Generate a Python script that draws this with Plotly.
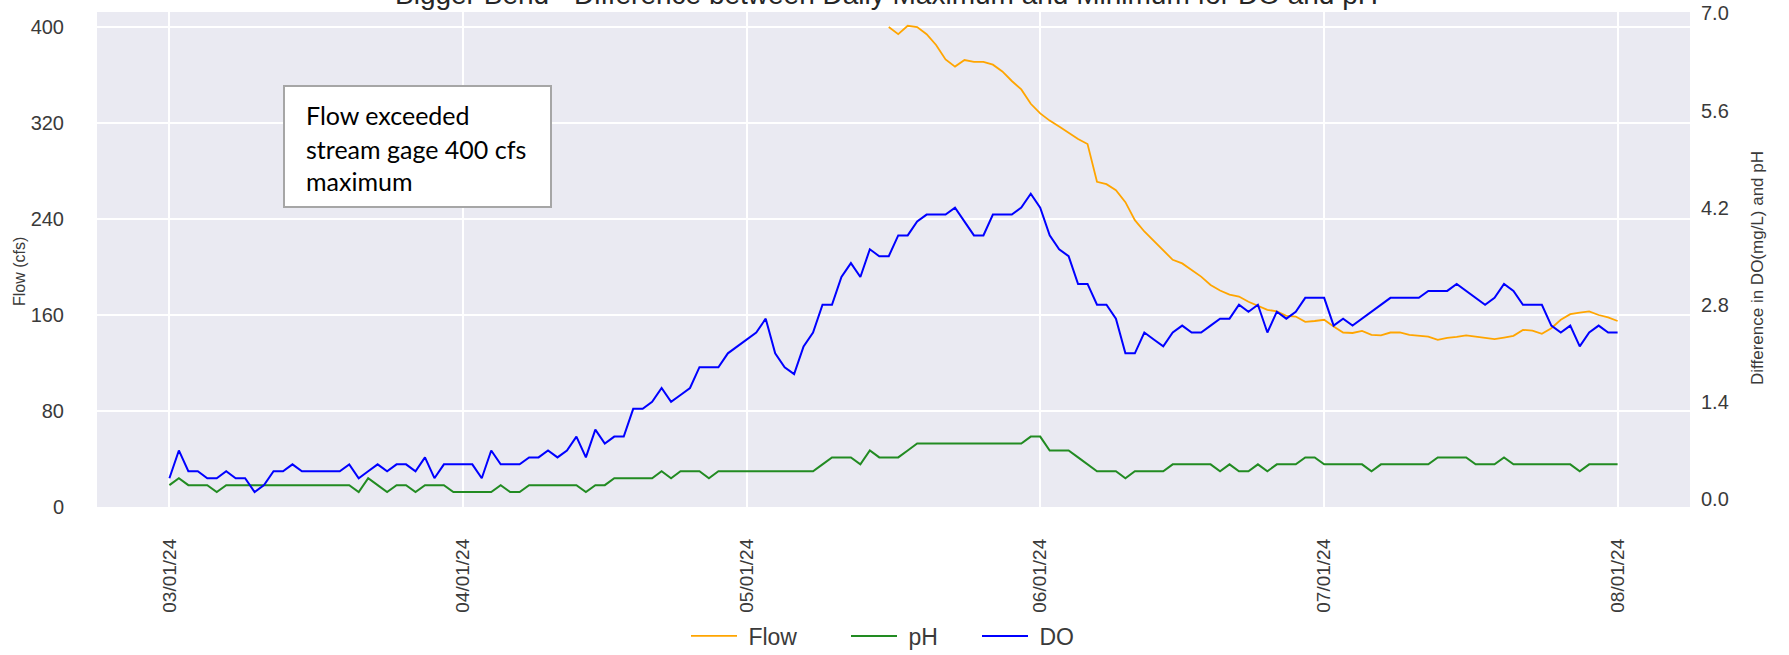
import pandas as pd
import plotly.graph_objects as go

# ---------------- data ----------------
dates = pd.date_range("2024-03-01", "2024-08-01", freq="D")

do_diff = [0.3, 0.7, 0.4, 0.4, 0.3, 0.3, 0.4, 0.3, 0.3, 0.1,
           0.2, 0.4, 0.4, 0.5, 0.4, 0.4, 0.4, 0.4, 0.4, 0.5,
           0.3, 0.4, 0.5, 0.4, 0.5, 0.5, 0.4, 0.6, 0.3, 0.5,
           0.5, 0.5, 0.5, 0.3, 0.7, 0.5, 0.5, 0.5, 0.6, 0.6,
           0.7, 0.6, 0.7, 0.9, 0.6, 1.0, 0.8, 0.9, 0.9, 1.3,
           1.3, 1.4, 1.6, 1.4, 1.5, 1.6, 1.9, 1.9, 1.9, 2.1,
           2.2, 2.3, 2.4, 2.6, 2.1, 1.9, 1.8, 2.2, 2.4, 2.8,
           2.8, 3.2, 3.4, 3.2, 3.6, 3.5, 3.5, 3.8, 3.8, 4.0,
           4.1, 4.1, 4.1, 4.2, 4.0, 3.8, 3.8, 4.1, 4.1, 4.1,
           4.2, 4.4, 4.2, 3.8, 3.6, 3.5, 3.1, 3.1, 2.8, 2.8,
           2.6, 2.1, 2.1, 2.4, 2.3, 2.2, 2.4, 2.5, 2.4, 2.4,
           2.5, 2.6, 2.6, 2.8, 2.7, 2.8, 2.4, 2.7, 2.6, 2.7,
           2.9, 2.9, 2.9, 2.5, 2.6, 2.5, 2.6, 2.7, 2.8, 2.9,
           2.9, 2.9, 2.9, 3.0, 3.0, 3.0, 3.1, 3.0, 2.9, 2.8,
           2.9, 3.1, 3.0, 2.8, 2.8, 2.8, 2.5, 2.4, 2.5, 2.2,
           2.4, 2.5, 2.4, 2.4]

ph_diff = [0.2, 0.3, 0.2, 0.2, 0.2, 0.1, 0.2, 0.2, 0.2, 0.2,
           0.2, 0.2, 0.2, 0.2, 0.2, 0.2, 0.2, 0.2, 0.2, 0.2,
           0.1, 0.3, 0.2, 0.1, 0.2, 0.2, 0.1, 0.2, 0.2, 0.2,
           0.1, 0.1, 0.1, 0.1, 0.1, 0.2, 0.1, 0.1, 0.2, 0.2,
           0.2, 0.2, 0.2, 0.2, 0.1, 0.2, 0.2, 0.3, 0.3, 0.3,
           0.3, 0.3, 0.4, 0.3, 0.4, 0.4, 0.4, 0.3, 0.4, 0.4,
           0.4, 0.4, 0.4, 0.4, 0.4, 0.4, 0.4, 0.4, 0.4, 0.5,
           0.6, 0.6, 0.6, 0.5, 0.7, 0.6, 0.6, 0.6, 0.7, 0.8,
           0.8, 0.8, 0.8, 0.8, 0.8, 0.8, 0.8, 0.8, 0.8, 0.8,
           0.8, 0.9, 0.9, 0.7, 0.7, 0.7, 0.6, 0.5, 0.4, 0.4,
           0.4, 0.3, 0.4, 0.4, 0.4, 0.4, 0.5, 0.5, 0.5, 0.5,
           0.5, 0.4, 0.5, 0.4, 0.4, 0.5, 0.4, 0.5, 0.5, 0.5,
           0.6, 0.6, 0.5, 0.5, 0.5, 0.5, 0.5, 0.4, 0.5, 0.5,
           0.5, 0.5, 0.5, 0.5, 0.6, 0.6, 0.6, 0.6, 0.5, 0.5,
           0.5, 0.6, 0.5, 0.5, 0.5, 0.5, 0.5, 0.5, 0.5, 0.4,
           0.5, 0.5, 0.5, 0.5]

# flow only recorded once it dropped below the 400 cfs gage maximum (from 05/16/24)
flow_start = "2024-05-16"
flow_cfs = [400, 394, 401, 400, 394, 385, 373, 367, 372.5, 371,
            371, 368.6, 363, 355, 348, 336, 328, 322, 317, 312,
            306.6, 302.5, 271, 269, 264, 254, 239, 229.6, 222, 214,
            206, 203, 197.7, 192, 185, 180.4, 177, 175.4, 171, 167.6,
            164.3, 163, 159.3, 158.7, 154.3, 155, 156, 150.4, 145.4, 145,
            146.8, 143.5, 143, 145.4, 145.6, 143.5, 143, 142, 139.3, 141,
            141.8, 143, 142, 140.8, 139.9, 141.2, 142.6, 147.6, 147, 144.3,
            149, 156, 160.7, 162, 163, 160, 158, 155]
flow_dates = pd.date_range(flow_start, periods=len(flow_cfs), freq="D")

x_ticks = pd.date_range("2024-03-01", "2024-08-01", freq="MS")
flow_ticks = [0, 80, 160, 240, 320, 400]
diff_ticks = [0.0, 1.4, 2.8, 4.2, 5.6, 7.0]

title_text = "Bigger Bend - Difference between Daily Maximum and Minimum for DO and pH"
note_lines = ["Flow exceeded", "stream gage 400 cfs", "maximum"]

# ---------------- figure ----------------
W, H = 1789, 655
ML, MR, MT, MB = 97, 99, 12, 148
PW, PH = W - ML - MR, H - MT - MB

TICK_COLOR = "#3a3a3a"
FONT = "Liberation Sans, Arial, sans-serif"
NBSP = "\u00a0"


def px_x(px):
    return (px - ML) / PW


def px_y(py):
    return (H - MB - py) / PH


fig = go.Figure()
fig.add_trace(go.Scatter(x=flow_dates, y=flow_cfs, name=NBSP + "Flow", mode="lines",
                         line=dict(color="#FFA500", width=1.8), yaxis="y",
                         legend="legend"))
fig.add_trace(go.Scatter(x=dates, y=ph_diff, name=NBSP + "pH", mode="lines",
                         line=dict(color="#228B22", width=2), yaxis="y2",
                         legend="legend2"))
fig.add_trace(go.Scatter(x=dates, y=do_diff, name=NBSP + "DO", mode="lines",
                         line=dict(color="#0000FF", width=2), yaxis="y2",
                         legend="legend3"))

annotations = [
    dict(text=title_text, xref="paper", yref="paper", x=px_x(886), y=1.0,
         xanchor="center", yanchor="bottom", showarrow=False,
         font=dict(family=FONT, size=28, color="#262626")),
    dict(text="Flow (cfs)", xref="paper", yref="paper", x=px_x(19), y=px_y(272),
         xanchor="center", yanchor="middle", textangle=-90, showarrow=False,
         font=dict(family=FONT, size=16, color=TICK_COLOR)),
    dict(text="Difference in DO(mg/L) and pH", xref="paper", yref="paper",
         x=px_x(1757), y=px_y(268), xanchor="center", yanchor="middle",
         textangle=-90, showarrow=False,
         font=dict(family=FONT, size=17, color=TICK_COLOR)),
]
for line, cy in zip(note_lines, [115, 149, 181]):
    annotations.append(dict(text=line, xref="paper", yref="paper", x=px_x(304), y=px_y(cy),
                            xanchor="left", yanchor="middle", showarrow=False,
                            font=dict(family="Lato, Open Sans, sans-serif", size=25,
                                      color="#000000")))

shapes = [dict(type="rect", xref="paper", yref="paper",
               x0=px_x(284), x1=px_x(551), y0=px_y(207), y1=px_y(86),
               fillcolor="white", line=dict(color="#A6A6A6", width=2), layer="above")]

legend_common = dict(orientation="h", xanchor="left", yanchor="middle", y=px_y(636),
                     itemwidth=46, font=dict(size=23, color=TICK_COLOR),
                     bgcolor="rgba(0,0,0,0)", borderwidth=0)

fig.update_layout(
    width=W, height=H,
    margin=dict(l=ML, r=MR, t=MT, b=MB, autoexpand=False),
    paper_bgcolor="white", plot_bgcolor="#EAEAF2",
    font=dict(family=FONT, color=TICK_COLOR),
    showlegend=True,
    legend=dict(x=px_x(686), **legend_common),
    legend2=dict(x=px_x(846), **legend_common),
    legend3=dict(x=px_x(977), **legend_common),
    xaxis=dict(type="date", range=["2024-02-22 08:24", "2024-08-08 15:36"],
               tickvals=list(x_ticks), tickformat="%m/%d/%y", tickangle=-90,
               tickfont=dict(size=19, color=TICK_COLOR), showgrid=True,
               gridcolor="white", gridwidth=1.5, zeroline=False, showline=False,
               ticks="", ticklabelstandoff=27),
    yaxis=dict(range=[0, 412.5], tickvals=flow_ticks, showgrid=True, gridcolor="white",
               gridwidth=1.5, zeroline=False, showline=False, ticks="",
               tickfont=dict(size=20, color=TICK_COLOR), ticklabelstandoff=32),
    yaxis2=dict(range=[-0.115, 7.02], tickvals=diff_ticks, tickformat=".1f",
                overlaying="y", side="right", showgrid=False, zeroline=False,
                showline=False, ticks="", tickfont=dict(size=20, color=TICK_COLOR),
                ticklabelstandoff=10),
    annotations=annotations,
    shapes=shapes,
)

# remove the browser's default 8px body margin so the figure sits at the page origin
fig.write_html("out.html",
               config={"displayModeBar": False},
               post_script="document.body.style.margin='0px';"
                           "document.documentElement.style.overflow='hidden';")
